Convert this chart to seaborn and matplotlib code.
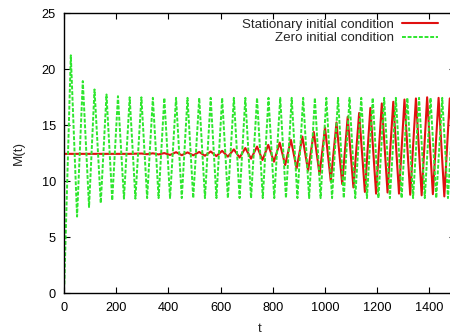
import matplotlib
matplotlib.use("Agg")
import matplotlib.pyplot as plt
import seaborn as sns
import pandas as pd

# ---- data ----
stat_label = "Stationary initial condition"
zero_label = "Zero initial condition"

red_t = [0, 250, 296, 318, 340, 362, 384, 406, 429, 451, 473, 495, 518, 540,
         562, 584, 606, 628, 651, 673, 695, 717, 740, 761, 783, 805, 827, 848,
         870, 892, 914, 936, 958, 980, 1001, 1023, 1045, 1067, 1088, 1110, 1132,
         1154, 1175, 1197, 1219, 1241, 1263, 1285, 1306, 1328, 1350, 1372, 1393,
         1415, 1437, 1459, 1480, 1500]
red_m = [12.45, 12.45, 12.48, 12.42, 12.50, 12.40, 12.52, 12.35, 12.60, 12.33,
         12.58, 12.32, 12.62, 12.28, 12.66, 12.25, 12.72, 12.20, 12.85, 12.12,
         12.97, 12.02, 13.10, 11.90, 13.25, 11.75, 13.45, 11.45, 13.70, 11.15,
         14.00, 10.95, 14.40, 10.60, 14.80, 10.00, 15.25, 9.75, 15.75, 9.45,
         16.10, 9.05, 16.55, 8.90, 16.95, 9.00, 17.10, 8.90, 17.30, 8.80,
         17.40, 8.75, 17.50, 8.85, 17.45, 8.65, 17.40, 8.80]

green_t = [0, 25, 49, 71, 95, 116, 140, 162, 184, 206, 229, 251, 273, 296, 318,
           340, 362, 384, 406, 429, 451, 473, 495, 518, 540, 562, 584, 606, 628,
           651, 673, 695, 717, 740, 762, 784, 806, 829, 851, 873, 895, 917, 940,
           962, 984, 1006, 1028, 1051, 1073, 1095, 1117, 1140, 1162, 1184, 1206,
           1228, 1250, 1273, 1295, 1317, 1339, 1362, 1384, 1406, 1428, 1451,
           1473, 1495]
green_m = [0.8, 21.25, 6.85, 18.95, 7.70, 18.20, 8.05, 17.75, 8.30, 17.60, 8.45,
           17.50, 8.45, 17.50, 8.50, 17.45, 8.50, 17.45, 8.50, 17.45, 8.50,
           17.45, 8.50, 17.45, 8.50, 17.45, 8.50, 17.45, 8.50, 17.45, 8.50,
           17.45, 8.50, 17.45, 8.50, 17.45, 8.50, 17.45, 8.50, 17.45, 8.50,
           17.45, 8.50, 17.45, 8.50, 17.45, 8.50, 17.45, 8.50, 17.45, 8.50,
           17.45, 8.50, 17.45, 8.50, 17.45, 8.50, 17.45, 8.50, 17.45, 8.50,
           17.45, 8.50, 17.45, 8.50, 17.45, 8.50, 17.45]

x_ticks = [0, 200, 400, 600, 800, 1000, 1200, 1400]
y_ticks = [0, 5, 10, 15, 20, 25]

# ---- style ----
sns.set_theme(style="ticks")
plt.rcParams["font.family"] = ["Liberation Sans", "DejaVu Sans"]
plt.rcParams["xtick.direction"] = "in"
plt.rcParams["ytick.direction"] = "in"

fig = plt.figure(figsize=(4.5, 3.36), dpi=100)
ax = fig.add_axes([64.3 / 450, (336 - 293.3) / 336,
                   (455 - 64.3) / 450, (293.3 - 13.3) / 336])

df_red = pd.DataFrame({"t": red_t, "M": red_m})
df_green = pd.DataFrame({"t": green_t, "M": green_m})

sns.lineplot(data=df_red, x="t", y="M", ax=ax, color="#e01010", linewidth=1.5,
             sort=False, estimator=None, label=stat_label)
sns.lineplot(data=df_green, x="t", y="M", ax=ax, color="#2ee62e", linewidth=1.4,
             sort=False, estimator=None, label=zero_label)
ax.lines[1].set_dashes([2.0, 0.9])

ax.set_xlim(0, 1500)
ax.set_ylim(0, 25)
ax.set_xticks(x_ticks)
ax.set_yticks(y_ticks)
ax.tick_params(axis="both", which="both", top=True, right=True, length=4,
               width=0.8, labelsize=9.2, colors="black")
ax.tick_params(axis="y", pad=6)
ax.tick_params(axis="x", pad=6)
for s in ax.spines.values():
    s.set_linewidth(1.0)
    s.set_color("black")
ax.set_xlabel("t", fontsize=9.6, labelpad=7)
ax.set_ylabel("M(t)", fontsize=9.6, labelpad=12)

leg = ax.legend(loc="upper right", frameon=False, markerfirst=False,
                fontsize=9.6, handlelength=2.7, handletextpad=0.6,
                labelspacing=0.09, borderaxespad=0.0, borderpad=0.0)
leg.set_bbox_to_anchor((438 / 450, (336 - 18.5) / 336), transform=fig.transFigure)

fig.savefig("out.png", dpi=100)
